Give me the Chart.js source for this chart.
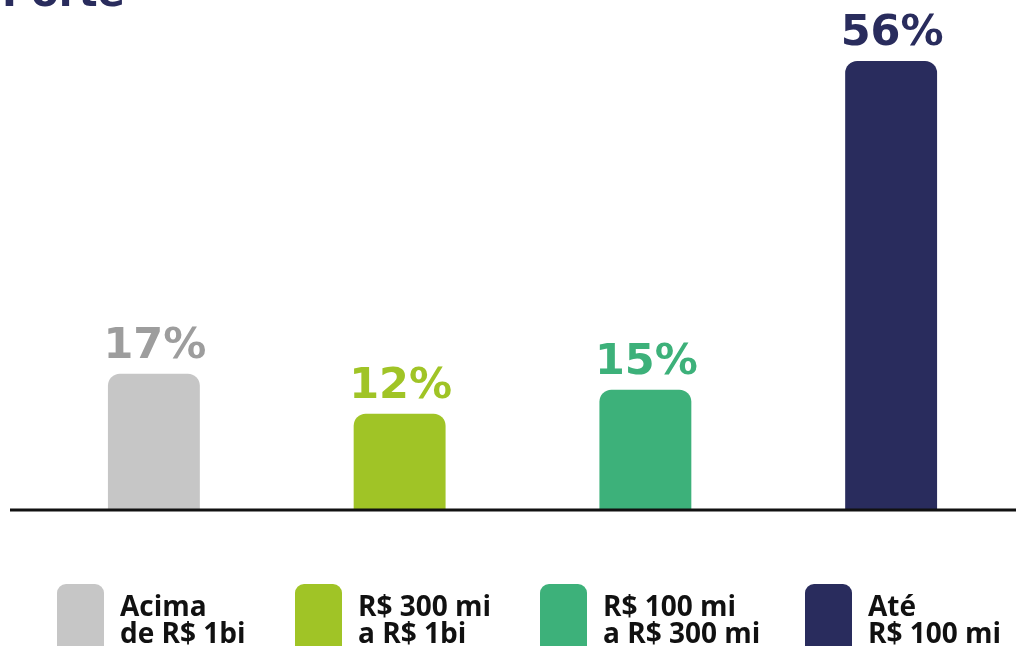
<!DOCTYPE html>
<html>
<head>
<meta charset="utf-8">
<script src="https://cdn.jsdelivr.net/npm/chart.js@4"></script>
<style>
  html, body { margin: 0; padding: 0; background: #fff; overflow: hidden; }
  canvas { display: block; }
</style>
</head>
<body>
<canvas id="porteChart" width="1016" height="646"></canvas>
<script>
const title = 'Porte';
const categories = [['Acima', 'de R$ 1bi'], ['R$ 300 mi', 'a R$ 1bi'], ['R$ 100 mi', 'a R$ 300 mi'], ['Até', 'R$ 100 mi']];
const shares = [17, 12, 15, 56];
const barColors = ['#c6c6c6', '#a0c426', '#3db17a', '#292c5d'];
const labelColors = ['#9d9d9d', '#a0c426', '#3db17a', '#292c5d'];

// legend boxes sit at fixed spots under the plot
const legendX = [57, 295, 540, 805];

const valueLabels = {
    id: 'valueLabels',
    afterDatasetsDraw(chart) {
        const ctx = chart.ctx;
        const meta = chart.getDatasetMeta(0);
        ctx.save();
        ctx.font = 'bold 43px "DejaVu Sans"';
        ctx.textAlign = 'center';
        ctx.textBaseline = 'alphabetic';
        meta.data.forEach((bar, i) => {
            ctx.fillStyle = labelColors[i];
            ctx.fillText(shares[i] + '%', bar.x + 1, bar.y - 16);
        });
        ctx.restore();
    }
};

const decorations = {
    id: 'decorations',
    afterDraw(chart) {
        const ctx = chart.ctx;
        const y0 = chart.scales.y.getPixelForValue(0);
        ctx.save();

        // baseline
        ctx.strokeStyle = '#111';
        ctx.lineWidth = 3;
        ctx.beginPath();
        ctx.moveTo(10, y0);
        ctx.lineTo(chart.width, y0);
        ctx.stroke();

        // title, mostly cut off at the top
        ctx.fillStyle = '#292c5d';
        ctx.font = 'bold 40px "DejaVu Sans"';
        ctx.textBaseline = 'alphabetic';
        ctx.fillText(title, 2, 6);

        // legend
        categories.forEach((lines, i) => {
            const x = legendX[i];
            ctx.fillStyle = barColors[i];
            ctx.beginPath();
            ctx.roundRect(x, 584, 47, 80, 9);
            ctx.fill();
            ctx.fillStyle = '#111';
            ctx.font = 'bold 28px "Open Sans"';
            lines.forEach((t, j) => {
                ctx.fillText(t, x + 63, 616 + j * 27);
            });
        });
        ctx.restore();
    }
};

new Chart(document.getElementById('porteChart').getContext('2d'), {
    type: 'bar',
    data: {
        labels: categories.map(c => c.join(' ')),
        datasets: [{
            data: shares,
            backgroundColor: barColors,
            borderRadius: 12,
            borderSkipped: 'bottom',
            barPercentage: 0.374,
            categoryPercentage: 1
        }]
    },
    options: {
        responsive: false,
        animation: false,
        layout: { padding: { top: 0, bottom: 136, left: 31, right: 2 } },
        scales: {
            x: { display: false },
            y: { display: false, min: 0, max: 63.6 }
        },
        plugins: {
            legend: { display: false },
            tooltip: { enabled: false }
        }
    },
    plugins: [valueLabels, decorations]
});
</script>
</body>
</html>
